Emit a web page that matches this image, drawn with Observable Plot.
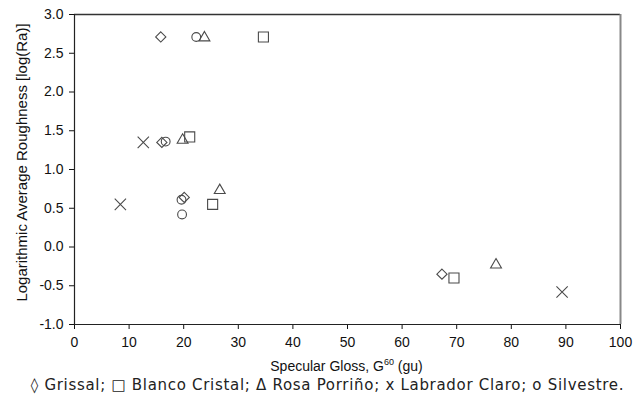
<!DOCTYPE html>
<html>
<head>
<meta charset="utf-8">
<script src="https://cdn.jsdelivr.net/npm/d3@7"></script>
<script src="https://cdn.jsdelivr.net/npm/@observablehq/plot@0.6"></script>
<style>
  body { margin: 0; background: #fff; }
  #chart { width: 643px; }
  .xtitle { font-family: "Liberation Sans", Arial, sans-serif; font-size: 14px; color: #111; text-align: center; width: 643px; padding-left: 50px; box-sizing: border-box; line-height: 16px; margin-top: 8px; }
  .xtitle sup { font-size: 9px; vertical-align: 6px; line-height: 0; }
  .legend { font-family: "DejaVu Sans", Verdana, sans-serif; font-size: 15px; letter-spacing: 0.7px; color: #222; text-align: center; width: 643px; margin-top: 2px; white-space: nowrap; padding-left: 12px; box-sizing: border-box; }
</style>
</head>
<body>
<div id="chart"></div>
<script>
// Data
const seriesNames = ["Grissal", "Blanco Cristal", "Rosa Porriño", "Labrador Claro", "Silvestre"];
const grissalX = [15.8, 16.0, 20.1, 67.3];
const grissalY = [2.71, 1.35, 0.64, -0.35];
const blancoX = [34.6, 21.1, 25.3, 69.5];
const blancoY = [2.71, 1.42, 0.55, -0.40];
const rosaX = [23.8, 19.8, 26.6, 77.2];
const rosaY = [2.70, 1.38, 0.73, -0.23];
const labradorX = [12.6, 8.4, 89.3];
const labradorY = [1.35, 0.55, -0.58];
const silvestreX = [22.3, 16.7, 19.6, 19.7];
const silvestreY = [2.71, 1.36, 0.61, 0.42];
const xTicks = [0, 10, 20, 30, 40, 50, 60, 70, 80, 90, 100];
const yTicks = [-1.0, -0.5, 0.0, 0.5, 1.0, 1.5, 2.0, 2.5, 3.0];
const xDomain = [0, 100];
const yDomain = [-1, 3];

const toRows = (xs, ys) => xs.map((x, i) => ({x, y: ys[i]}));

const symbols = ["diamond2", "square2", "triangle2", "times", "circle"];
const radii = [4.6, 6.4, 5.2, 5.2, 4.4];
const sets = [
  toRows(grissalX, grissalY),
  toRows(blancoX, blancoY),
  toRows(rosaX, rosaY),
  toRows(labradorX, labradorY),
  toRows(silvestreX, silvestreY)
];

const dotMarks = sets.map((rows, i) => Plot.dot(rows, {
  x: "x", y: "y", symbol: () => symbols[i], r: radii[i],
  stroke: "#4a4a4a", strokeWidth: 1.1, fill: "none"
}));

const chart = Plot.plot({
  width: 643,
  height: 350,
  marginLeft: 74,
  marginRight: 23,
  marginTop: 14,
  marginBottom: 26,
  style: { fontFamily: "'Liberation Sans', Arial, sans-serif", fontSize: "14px", color: "#111", background: "#fff" },
  symbol: { type: "identity" },
  x: { domain: xDomain, ticks: xTicks, tickSize: 5, tickPadding: 8, label: null, tickFormat: d => String(d) },
  y: { domain: yDomain, ticks: yTicks, tickSize: 5, tickPadding: 6, label: null, tickFormat: d => d.toFixed(1) },
  marks: [
    Plot.ruleY([yDomain[1]], { stroke: "#333", strokeWidth: 1.4 }),
    Plot.ruleX([xDomain[1]], { stroke: "#888", strokeWidth: 2 }),
    Plot.ruleX([xDomain[0]], { stroke: "#222", strokeWidth: 1.2 }),
    Plot.ruleY([yDomain[0]], { stroke: "#222", strokeWidth: 1.2 }),
    Plot.text(["Logarithmic Average Roughness [log(Ra)]"], {
      frameAnchor: "left", textAnchor: "middle", text: d => d, rotate: -90, dx: -52, dy: -7,
      fontSize: 15, fill: "#111"
    }),
    ...dotMarks
  ]
});
document.getElementById("chart").appendChild(chart);

const xt = document.createElement("div");
xt.className = "xtitle";
xt.innerHTML = "Specular Gloss, G<sup>60</sup> (gu)";
document.body.appendChild(xt);

const lg = document.createElement("div");
lg.className = "legend";
const legendSymbols = ["◊", "□", "Δ", "x", "o"];
lg.textContent = seriesNames.map((n, i) => legendSymbols[i] + " " + n).join("; ") + ".";
document.body.appendChild(lg);
</script>
</body>
</html>
